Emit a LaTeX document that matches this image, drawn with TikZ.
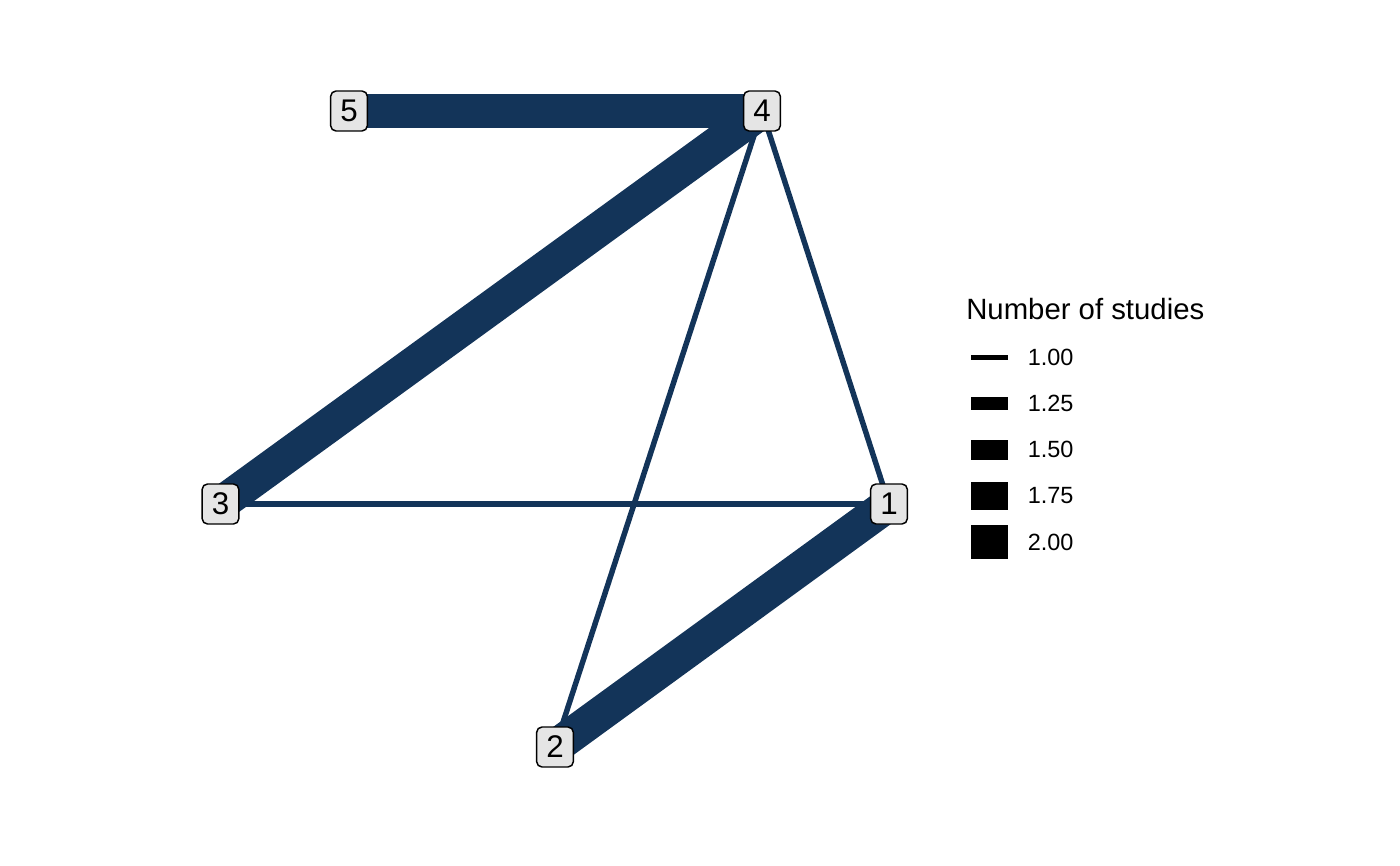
\documentclass[tikz,border=0pt]{standalone}
\usepackage{fontspec}
\setmainfont{Liberation Sans}
\usetikzlibrary{backgrounds}
\definecolor{edgeblue}{RGB}{19,52,89}
\definecolor{nodegrey}{RGB}{229,229,229}

\begin{document}
\begin{tikzpicture}[x=0.75pt,y=0.75pt,yscale=-1,xscale=1,
  trt/.style={draw=black,line width=1.1pt,fill=nodegrey,rounded corners=4pt,minimum width=27.5pt,minimum height=30pt,inner sep=0pt,font=\fontsize{23.5}{27}\selectfont},
  onestudy/.style={draw=edgeblue,line width=4.1pt},
  twostudies/.style={draw=edgeblue,line width=26pt},
  keytext/.style={anchor=west,inner sep=0pt,font=\fontsize{17.6}{21}\selectfont}]
\useasboundingbox (0,0) rectangle (1400,866);

% Treatment nodes
\node [trt] (t1) at (889,504) {1};
\node [trt] (t2) at (555,747) {2};
\node [trt] (t3) at (220.5,504) {3};
\node [trt] (t4) at (762,111) {4};
\node [trt] (t5) at (349,111) {5};

\begin{pgfonlayer}{background}
%Straight Lines: two studies
\draw [twostudies] (t5.center) -- (t4.center);
\draw [twostudies] (t4.center) -- (t3.center);
\draw [twostudies] (t1.center) -- (t2.center);
%Straight Lines: one study
\draw [onestudy] (t3.center) -- (t1.center);
\draw [onestudy] (t4.center) -- (t2.center);
\draw [onestudy] (t4.center) -- (t1.center);
\end{pgfonlayer}

% Legend title
\node [anchor=base west,inner sep=0pt,font=\fontsize{22}{26}\selectfont] (legtitle) at (966,320) {Number of studies};
% Legend keys
\draw [line width=4.1pt] (971,357.7) -- (1008,357.7);
\draw [line width=9.6pt] (971,403.8) -- (1008,403.8);
\draw [line width=15.1pt] (971,449.9) -- (1008,449.9);
\draw [line width=20.5pt] (971,496) -- (1008,496);
\draw [line width=26pt] (971,542) -- (1008,542);
% Legend labels
\node [keytext] (lab100) at (1027.5,357.7) {1.00};
\node [keytext] (lab125) at (1027.5,403.8) {1.25};
\node [keytext] (lab150) at (1027.5,449.9) {1.50};
\node [keytext] (lab175) at (1027.5,496) {1.75};
\node [keytext] (lab200) at (1027.5,542) {2.00};
\end{tikzpicture}
\end{document}
